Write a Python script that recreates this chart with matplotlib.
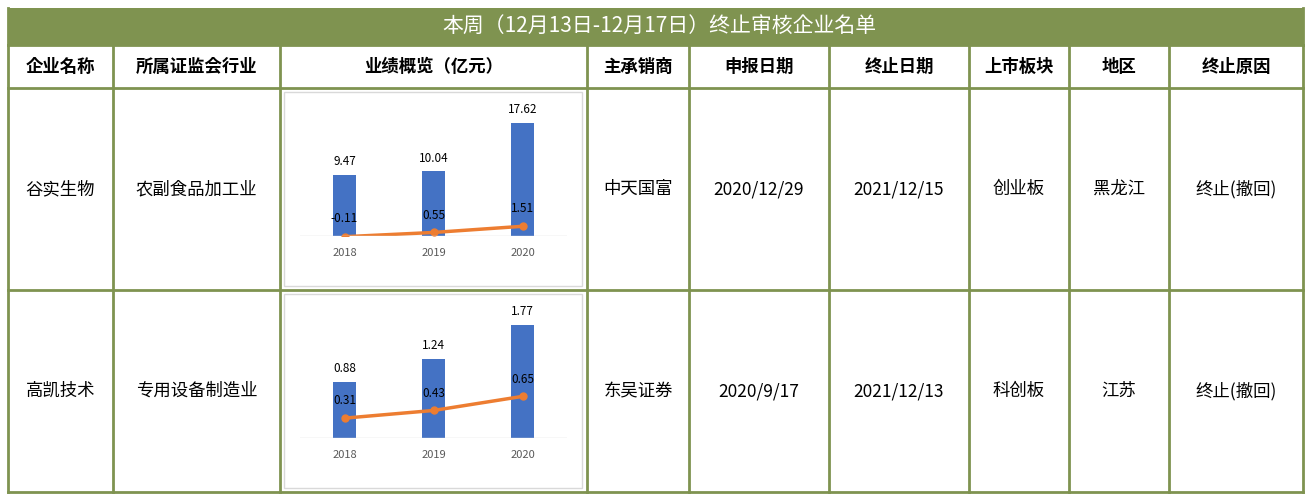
import matplotlib.pyplot as plt
import matplotlib.patches as patches
from matplotlib import font_manager

# make sure a CJK font is registered
cjk_name = None
for f in font_manager.findSystemFonts():
    if "CJK" in f and ("Sans" in f or "sans" in f):
        try:
            font_manager.fontManager.addfont(f)
            cjk_name = font_manager.FontProperties(fname=f).get_name()
            if "SC" in cjk_name or cjk_name.endswith("JP"):
                break
        except Exception:
            pass
plt.rcParams["font.family"] = [cjk_name or "Noto Sans CJK SC", "DejaVu Sans"]

W, H = 1311, 496
GREEN = "#7F9350"

title = "本周（12月13日-12月17日）终止审核企业名单"
headers = ["企业名称", "所属证监会行业", "业绩概览（亿元）", "主承销商", "申报日期", "终止日期", "上市板块", "地区", "终止原因"]
companies = ["谷实生物", "高凯技术"]
industries = ["农副食品加工业", "专用设备制造业"]
underwriters = ["中天国富", "东吴证券"]
apply_dates = ["2020/12/29", "2020/9/17"]
end_dates = ["2021/12/15", "2021/12/13"]
boards = ["创业板", "科创板"]
regions = ["黑龙江", "江苏"]
reasons = ["终止(撤回)", "终止(撤回)"]
years = ["2018", "2019", "2020"]
revenue = [[9.47, 10.04, 17.62], [0.88, 1.24, 1.77]]
profit = [[-0.11, 0.55, 1.51], [0.31, 0.43, 0.65]]

col_x = [8, 113, 280, 587, 689, 829, 969, 1069, 1169, 1303]
row_y = [8, 45, 88, 290, 492]

fig = plt.figure(figsize=(W / 100, H / 100), dpi=100)
bg = fig.add_axes([0, 0, 1, 1])
bg.set_xlim(0, W)
bg.set_ylim(H, 0)
bg.axis("off")

# title bar
bg.add_patch(patches.Rectangle((col_x[0], row_y[0]), col_x[-1] - col_x[0], row_y[1] - row_y[0],
                               facecolor=GREEN, edgecolor="none"))
bg.text(W / 2 + 4, (row_y[0] + row_y[1]) / 2, title, color="white", fontsize=15, ha="center", va="center")

# grid lines
for y in row_y[1:]:
    bg.plot([col_x[0], col_x[-1]], [y, y], color=GREEN, lw=2)
for x in col_x:
    bg.plot([x, x], [row_y[1], row_y[-1]], color=GREEN, lw=2)
bg.plot([col_x[0], col_x[0]], [row_y[0], row_y[1]], color=GREEN, lw=2)
bg.plot([col_x[-1], col_x[-1]], [row_y[0], row_y[1]], color=GREEN, lw=2)

# header
for i, h in enumerate(headers):
    bg.text((col_x[i] + col_x[i + 1]) / 2, (row_y[1] + row_y[2]) / 2, h,
            fontsize=12.5, fontweight="bold", ha="center", va="center")

# rows
for r in range(2):
    cy = (row_y[r + 2] + row_y[r + 3]) / 2
    vals = [companies[r], industries[r], None, underwriters[r], apply_dates[r],
            end_dates[r], boards[r], regions[r], reasons[r]]
    for i, v in enumerate(vals):
        if v is None:
            continue
        bg.text((col_x[i] + col_x[i + 1]) / 2, cy, v, fontsize=12.5, ha="center", va="center")

    # chart frame
    top = row_y[r + 2]
    bg.add_patch(patches.Rectangle((284, top + 4), 298, 194, facecolor="white",
                                   edgecolor="#D9D9D9", lw=1))

    # inset chart
    base = top + 148
    ax = fig.add_axes([300 / W, 1 - base / H, 267 / W, 136 / H])
    x = range(len(years))
    ymax = max(revenue[r]) * 1.2
    ax.bar(x, revenue[r], width=0.25, color="#4472C4")
    ax.plot(x, profit[r], color="#ED7D31", lw=2.5, marker="o", ms=5)
    ax.set_ylim(0, ymax)
    ax.set_xlim(-0.5, 2.5)
    ax.axis("off")
    ax.axhline(0, color="#D9D9D9", lw=1)
    off = ymax * 0.05
    for xi, v in zip(x, revenue[r]):
        ax.text(xi, v + off, f"{v:.2f}", ha="center", va="bottom", fontsize=8.5)
    for xi, v in zip(x, profit[r]):
        ax.text(xi, max(v, 0) + ymax * 0.08, f"{v:.2f}", ha="center", va="bottom", fontsize=8.5)
    for xi, y in zip(x, years):
        ax.text(xi, -ymax * 0.09, y, ha="center", va="top", fontsize=8, color="#595959")
    ax.set_clip_on(False)

fig.savefig("out.png", dpi=100)
